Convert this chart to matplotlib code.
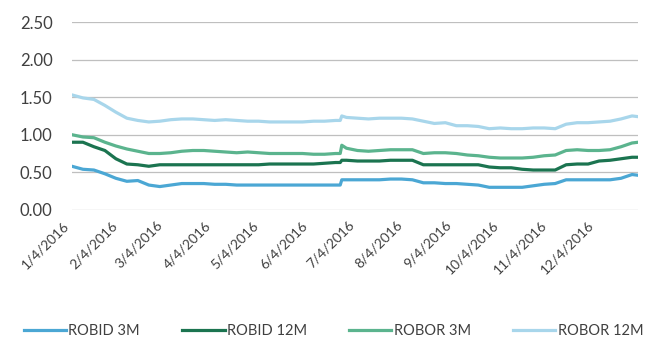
import numpy as np
import pandas as pd
import matplotlib
matplotlib.use("Agg")
import matplotlib.pyplot as plt
from matplotlib.transforms import ScaledTranslation

plt.rcParams["font.family"] = ["Lato", "DejaVu Sans"]

# weekly readings (Mondays) plus the Brexit jump and year end
dates = pd.to_datetime([
    "2016-01-04", "2016-01-11", "2016-01-18", "2016-01-25", "2016-02-01",
    "2016-02-08", "2016-02-15", "2016-02-22", "2016-02-29", "2016-03-07",
    "2016-03-14", "2016-03-21", "2016-03-28", "2016-04-04", "2016-04-11",
    "2016-04-18", "2016-04-25", "2016-05-02", "2016-05-09", "2016-05-16",
    "2016-05-23", "2016-05-30", "2016-06-06", "2016-06-13", "2016-06-20",
    "2016-06-23", "2016-06-24", "2016-06-27", "2016-07-04", "2016-07-11",
    "2016-07-18", "2016-07-25", "2016-08-01", "2016-08-08", "2016-08-15",
    "2016-08-22", "2016-08-29", "2016-09-05", "2016-09-12", "2016-09-19",
    "2016-09-26", "2016-10-03", "2016-10-10", "2016-10-17", "2016-10-24",
    "2016-10-31", "2016-11-07", "2016-11-14", "2016-11-21", "2016-11-28",
    "2016-12-05", "2016-12-12", "2016-12-19", "2016-12-26", "2016-12-30",
])

robid_3m = [0.58, 0.54, 0.53, 0.48, 0.42, 0.38, 0.39, 0.33, 0.31, 0.33,
            0.35, 0.35, 0.35, 0.34, 0.34, 0.33, 0.33, 0.33, 0.33, 0.33,
            0.33, 0.33, 0.33, 0.33, 0.33, 0.33, 0.40, 0.40, 0.40, 0.40,
            0.40, 0.41, 0.41, 0.40, 0.36, 0.36, 0.35, 0.35, 0.34, 0.33,
            0.30, 0.30, 0.30, 0.30, 0.32, 0.34, 0.35, 0.40, 0.40, 0.40,
            0.40, 0.40, 0.42, 0.47, 0.46]
robid_12m = [0.90, 0.90, 0.84, 0.79, 0.68, 0.61, 0.60, 0.58, 0.60, 0.60,
             0.60, 0.60, 0.60, 0.60, 0.60, 0.60, 0.60, 0.60, 0.61, 0.61,
             0.61, 0.61, 0.61, 0.62, 0.63, 0.63, 0.66, 0.66, 0.65, 0.65,
             0.65, 0.66, 0.66, 0.66, 0.60, 0.60, 0.60, 0.60, 0.60, 0.60,
             0.57, 0.56, 0.56, 0.54, 0.53, 0.53, 0.53, 0.60, 0.61, 0.61,
             0.65, 0.66, 0.68, 0.70, 0.70]
robor_3m = [1.00, 0.97, 0.96, 0.90, 0.85, 0.81, 0.78, 0.75, 0.75, 0.76,
            0.78, 0.79, 0.79, 0.78, 0.77, 0.76, 0.77, 0.76, 0.75, 0.75,
            0.75, 0.75, 0.74, 0.74, 0.75, 0.75, 0.86, 0.82, 0.79, 0.78,
            0.79, 0.80, 0.80, 0.80, 0.75, 0.76, 0.76, 0.75, 0.73, 0.72,
            0.70, 0.69, 0.69, 0.69, 0.70, 0.72, 0.73, 0.79, 0.80, 0.79,
            0.79, 0.80, 0.84, 0.89, 0.90]
robor_12m = [1.53, 1.49, 1.47, 1.39, 1.30, 1.22, 1.19, 1.17, 1.18, 1.20,
             1.21, 1.21, 1.20, 1.19, 1.20, 1.19, 1.18, 1.18, 1.17, 1.17,
             1.17, 1.17, 1.18, 1.18, 1.19, 1.19, 1.25, 1.23, 1.22, 1.21,
             1.22, 1.22, 1.22, 1.21, 1.18, 1.15, 1.16, 1.12, 1.12, 1.11,
             1.08, 1.09, 1.08, 1.08, 1.09, 1.09, 1.08, 1.14, 1.16, 1.16,
             1.17, 1.18, 1.21, 1.25, 1.24]

series = [
    ("ROBID 3M", robid_3m, "#4BA7D4"),
    ("ROBID 12M", robid_12m, "#1B7450"),
    ("ROBOR 3M", robor_3m, "#5BB48E"),
    ("ROBOR 12M", robor_12m, "#A8D6EB"),
]

tick_dates = pd.date_range("2016-01-01", periods=12, freq="MS") + pd.Timedelta(days=3)
tick_labels = [f"{d.month}/{d.day}/{d.year}" for d in tick_dates]

fig = plt.figure(figsize=(6.54, 3.39), dpi=100)
ax = fig.add_axes([0.110, 0.381, 0.866, 0.554])

for name, vals, col in series:
    ax.plot(dates, vals, color=col, lw=2.3, label=name, solid_joinstyle="round")

ax.set_ylim(0, 2.5)
ax.set_yticks(np.arange(0, 2.51, 0.5))
ax.set_yticklabels([f"{v:.2f}" for v in np.arange(0, 2.51, 0.5)])
ax.set_xlim(pd.Timestamp("2016-01-04"), pd.Timestamp("2016-12-30"))
ax.set_xticks(tick_dates)
ax.set_xticklabels(tick_labels, rotation=45, ha="right", rotation_mode="anchor")
ax.grid(axis="y", color="#BFBFBF", lw=0.9)
ax.set_axisbelow(True)
for s in ax.spines.values():
    s.set_visible(False)
ax.tick_params(length=0, colors="#404040")
ax.tick_params(axis="y", labelsize=12, pad=14)
ax.tick_params(axis="x", labelsize=10)
offset = ScaledTranslation(-7 / 72, -3 / 72, fig.dpi_scale_trans)
for lab in ax.get_xticklabels():
    lab.set_transform(lab.get_transform() + offset)

fig.legend(loc="lower center", bbox_to_anchor=(0.51, -0.035), ncol=4, frameon=False,
           handlelength=2.9, columnspacing=2.9, handletextpad=0.15,
           fontsize=10.5, labelcolor="#404040")

fig.savefig("out.png", dpi=100)
